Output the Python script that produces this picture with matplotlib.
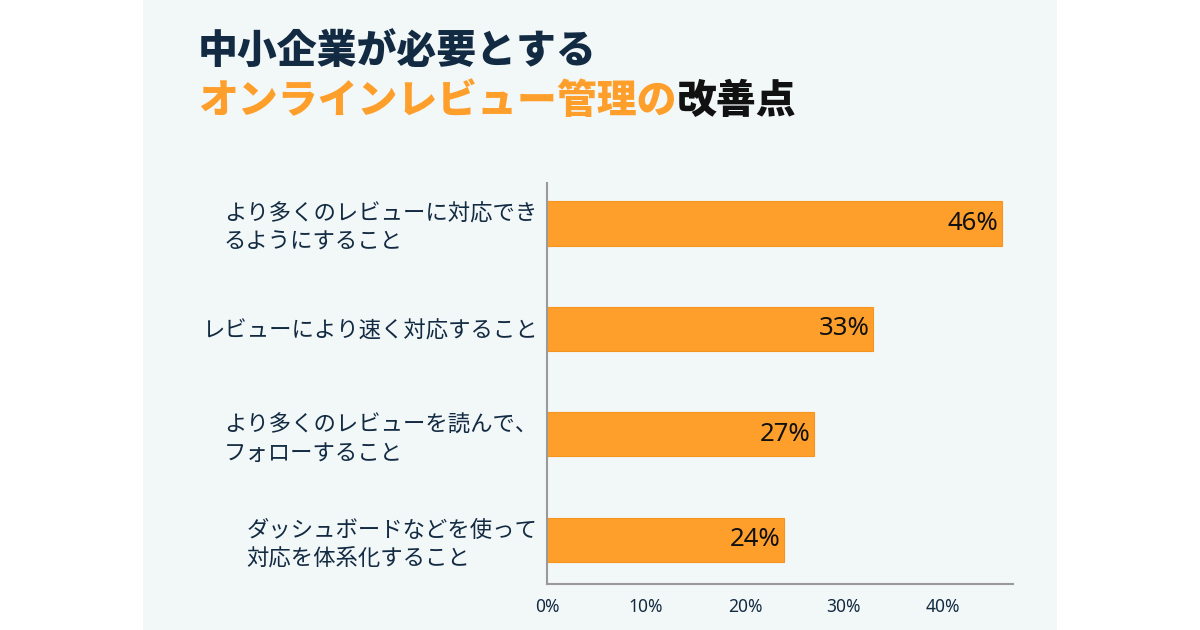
import matplotlib.pyplot as plt
from matplotlib.patches import Rectangle

plt.rcParams['font.family'] = ['Noto Sans CJK JP', 'DejaVu Sans']

# data
categories = [
	"より多くのレビューに対応でき\nるようにすること",
	"レビューにより速く対応すること",
	"より多くのレビューを読んで、\nフォローすること",
	"ダッシュボードなどを使って\n対応を体系化すること",
]
values = [46, 33, 27, 24]
xticks = [0, 10, 20, 30, 40]
xtick_labels = [str(x) + "%" for x in xticks]

title_1 = "中小企業が必要とする"
title_2a = "オンラインレビュー管理の"
title_2b = "改善点"

navy = "#132b42"
orange = "#FF9F2B"
panel = "#F2F7F8"

fig = plt.figure(figsize=(12, 6.3), dpi=100)
fig.patch.set_facecolor("white")
fig.patches.append(Rectangle((143 / 1200, 0), 914 / 1200, 1, transform=fig.transFigure,
	facecolor=panel, edgecolor="none", zorder=-5))

ax = fig.add_axes([547 / 1200, 46 / 630, 466 / 1200, 401 / 630])
ax.set_zorder(2)
ax.set_facecolor("none")
pos = list(range(len(values)))
bars = ax.barh(pos, values, height=0.42, color=orange, edgecolor="#F7941D", linewidth=0.8)
for b, v in zip(bars, values):
	ax.text(b.get_width() - 0.35, b.get_y() + b.get_height() / 2, str(v) + "%",
		ha="right", va="center", fontsize=18.5, color="#111111", family=["Noto Sans", "DejaVu Sans"])

ax.set_ylim(3.42, -0.385)
ax.set_xlim(0, 47.1)
ax.set_yticks(pos)
ax.set_yticklabels(categories, fontsize=16.1, color=navy, linespacing=1.27, ha="right", multialignment="left")
ax.set_xticks(xticks)
ax.set_xticklabels(xtick_labels, fontsize=12.5, color=navy, family=["Noto Sans", "DejaVu Sans"])
ax.tick_params(axis="both", length=0)
ax.tick_params(axis="y", pad=7)
ax.tick_params(axis="x", pad=10)
for s in ["top", "right"]:
	ax.spines[s].set_visible(False)
for s in ["left", "bottom"]:
	ax.spines[s].set_color("#9a9a9a")
	ax.spines[s].set_linewidth(1.5)

# title, second line in two colours
fig.text(198 / 1200, 1 - 52 / 630, title_1, fontsize=28.7, fontweight=900, color=navy, va="center", ha="left")
t2 = fig.text(198 / 1200, 1 - 101 / 630, title_2a, fontsize=28.7, fontweight=900, color=orange, va="center", ha="left")
r = fig.canvas.get_renderer()
bb = t2.get_window_extent(renderer=r)
fig.text(bb.x1 / 1200, 1 - 101 / 630, title_2b, fontsize=28.7, fontweight=900, color="#111111", va="center", ha="left")

plt.savefig("out.png", dpi=100, facecolor=fig.get_facecolor())
